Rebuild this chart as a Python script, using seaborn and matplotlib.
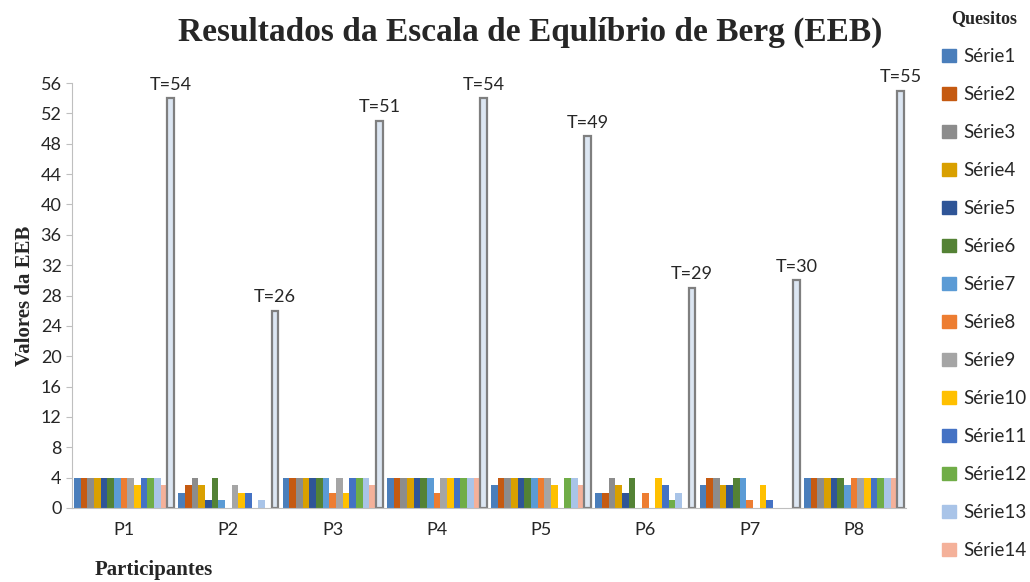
import seaborn as sns
import matplotlib.pyplot as plt
import matplotlib.patches as mpatches
import pandas as pd

# dados
participantes = ["P1", "P2", "P3", "P4", "P5", "P6", "P7", "P8"]
quesitos = ["Série%d" % i for i in range(1, 15)]

P1 = [4, 4, 4, 4, 4, 4, 4, 4, 4, 3, 4, 4, 4, 3]
P2 = [2, 3, 4, 3, 1, 4, 1, 0, 3, 2, 2, 0, 1, 0]
P3 = [4, 4, 4, 4, 4, 4, 4, 2, 4, 2, 4, 4, 4, 3]
P4 = [4, 4, 4, 4, 4, 4, 4, 2, 4, 4, 4, 4, 4, 4]
P5 = [3, 4, 4, 4, 4, 4, 4, 4, 4, 3, 0, 4, 4, 3]
P6 = [2, 2, 4, 3, 2, 4, 0, 2, 0, 4, 3, 1, 2, 0]
P7 = [3, 4, 4, 3, 3, 4, 4, 1, 0, 3, 1, 0, 0, 0]
P8 = [4, 4, 4, 4, 4, 4, 3, 4, 4, 4, 4, 4, 4, 4]
totais = [54, 26, 51, 54, 49, 29, 30, 55]

cores = ['#4A7EBB', '#C55A11', '#8C8C8C', '#D9A000', '#2F5597', '#548235',
         '#5B9BD5', '#ED7D31', '#A5A5A5', '#FFC000', '#4472C4', '#70AD47',
         '#A9C4E8', '#F4B19A']
cor_total = '#DCE6F2'

linhas = []
for p, vals, tot in zip(participantes, [P1, P2, P3, P4, P5, P6, P7, P8], totais):
    for q, v in zip(quesitos, vals):
        linhas.append({"Participante": p, "Quesito": q, "Valor": v})
    linhas.append({"Participante": p, "Quesito": "Total", "Valor": tot})
df = pd.DataFrame(linhas)

sns.set_style("white")
plt.rcParams['font.family'] = ['Lato', 'DejaVu Sans']

fig = plt.figure(figsize=(10.3, 5.82), dpi=100)
ax = fig.add_axes([72 / 1030, 1 - 508 / 582, (906 - 72) / 1030, (508 - 83) / 582])

sns.barplot(data=df, x="Participante", y="Valor", hue="Quesito",
            hue_order=quesitos + ["Total"], palette=cores + [cor_total],
            width=0.96, saturation=1, linewidth=0, legend=False, ax=ax)

# barra do total com contorno e rotulo
cont_total = ax.containers[-1]
for b in cont_total:
    b.set_edgecolor('#7F7F7F')
    b.set_linewidth(1.6)
ax.bar_label(cont_total, labels=["T=%d" % t for t in totais], padding=4, fontsize=13)

ax.set_ylim(0, 56)
ax.set_yticks(range(0, 57, 4))
ax.set_xlim(-0.5, 7.5)
ax.tick_params(axis='y', labelsize=13, length=4, color='#BFBFBF', left=True)
ax.tick_params(axis='x', labelsize=13, length=0, pad=10)
for s in ['top', 'right']:
    ax.spines[s].set_visible(False)
for s in ['left', 'bottom']:
    ax.spines[s].set_color('#BFBFBF')
ax.set_xlabel("")
ax.set_ylabel("Valores da EEB", fontsize=15, fontweight='bold',
              family='Liberation Serif', labelpad=4)

fig.text(0.515, 0.945, "Resultados da Escala de Equlíbrio de Berg (EEB)",
         ha='center', va='center', fontsize=24, fontweight='bold',
         family='Liberation Serif')
fig.text(0.092, 0.02, "Participantes", ha='left', va='center', fontsize=15,
         fontweight='bold', family='Liberation Serif')

handles = [mpatches.Patch(color=c, label=q) for c, q in zip(cores, quesitos)]
leg = fig.legend(handles=handles, loc='upper left', bbox_to_anchor=(0.905, 1.0),
                 frameon=False, fontsize=13.5, title="Quesitos",
                 handlelength=0.7, handleheight=0.7, handletextpad=0.4,
                 labelspacing=1.12, borderaxespad=0.15)
leg.get_title().set_fontweight('bold')
leg.get_title().set_family('Liberation Serif')
leg.get_title().set_fontsize(13)

fig.savefig("out.png", dpi=100)
